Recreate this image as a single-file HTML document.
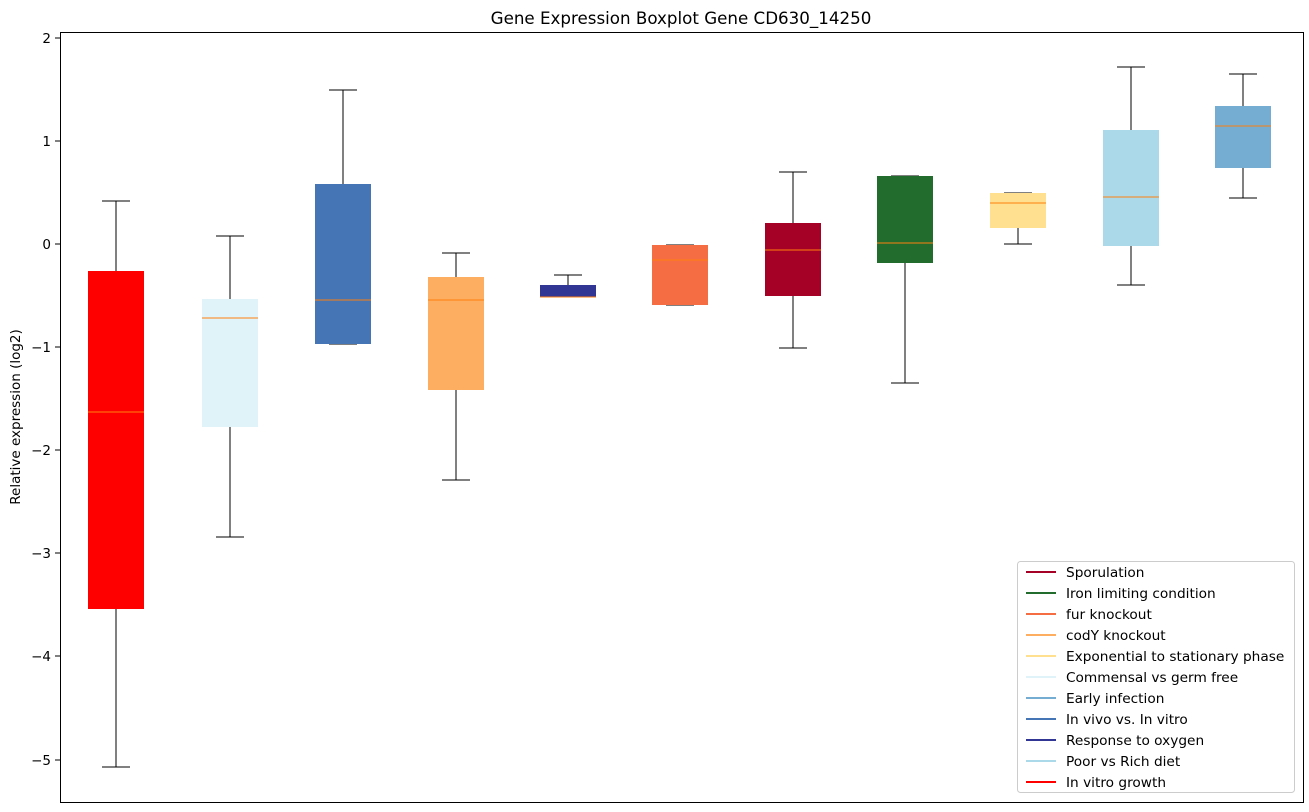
<!DOCTYPE html>
<html><head><meta charset="utf-8"><style>body{margin:0;background:#fff}svg{display:block;font-family:"DejaVu Sans","Liberation Sans",sans-serif}</style></head><body>
<svg width="1309" height="812" xmlns="http://www.w3.org/2000/svg">
<rect width="1309" height="812" fill="#fff"/>
<text x="681" y="24" font-size="16.7" text-anchor="middle">Gene Expression Boxplot Gene CD630_14250</text>
<text transform="translate(20,417) rotate(-90)" font-size="13.5" text-anchor="middle">Relative expression (log2)</text>
<g font-size="13.5" text-anchor="end">
<text x="51" y="43">2</text><text x="51" y="146">1</text><text x="51" y="249">0</text>
<text x="51" y="352">−1</text><text x="51" y="455">−2</text><text x="51" y="558">−3</text>
<text x="51" y="661">−4</text><text x="51" y="765">−5</text>
</g>
<g stroke="#000" shape-rendering="crispEdges">
<line x1="55" x2="60" y1="38" y2="38"/><line x1="55" x2="60" y1="141" y2="141"/><line x1="55" x2="60" y1="244" y2="244"/>
<line x1="55" x2="60" y1="347" y2="347"/><line x1="55" x2="60" y1="450" y2="450"/><line x1="55" x2="60" y1="553" y2="553"/>
<line x1="55" x2="60" y1="656" y2="656"/><line x1="55" x2="60" y1="760" y2="760"/>
</g>
<g stroke="#000" shape-rendering="crispEdges" fill="none">
<path d="M116 201V271M116 609V767M102 201H130M102 767H130"/>
<path d="M230 236V299M230 427V537M216 236H244M216 537H244"/>
<path d="M343 90V184M329 90H357M329 344H357"/>
<path d="M456 253V277M456 390V480M442 253H470M442 480H470"/>
<path d="M568 275V285M554 275H582M554 297H582"/>
<path d="M666 245H694M666 305H694"/>
<path d="M793 172V223M793 296V348M779 172H807M779 348H807"/>
<path d="M905 263V383M891 176H919M891 383H919"/>
<path d="M1018 228V244M1004 193H1032M1004 244H1032"/>
<path d="M1131 67V130M1131 246V285M1117 67H1145M1117 285H1145"/>
<path d="M1243 74V106M1243 168V198M1229 74H1257M1229 198H1257"/>
</g>
<g shape-rendering="crispEdges">
<rect x="88" y="271" width="56" height="338" fill="#ff0000"/>
<rect x="202" y="299" width="56" height="128" fill="#e0f3f8"/>
<rect x="315" y="184" width="56" height="160" fill="#4575b4"/>
<rect x="428" y="277" width="56" height="113" fill="#fdae61"/>
<rect x="540" y="285" width="56" height="12" fill="#313695"/>
<rect x="652" y="245" width="56" height="60" fill="#f46d43"/>
<rect x="765" y="223" width="56" height="73" fill="#a50026"/>
<rect x="877" y="176" width="56" height="87" fill="#226c2d"/>
<rect x="990" y="193" width="56" height="35" fill="#fee090"/>
<rect x="1103" y="130" width="56" height="116" fill="#abd9e9"/>
<rect x="1215" y="106" width="56" height="62" fill="#74add1"/>
</g>
<g stroke="#ff7f0e" shape-rendering="crispEdges">
<path d="M88 412H144M202 318H258M315 300H371M428 300H484M540 297H596M652 260H708M765 250H821M877 243H933M990 203H1046M1103 197H1159M1215 126H1271"/>
</g>
<rect x="60.5" y="32.5" width="1243" height="770" fill="none" stroke="#000"/>
<rect x="1017.5" y="561.5" width="277" height="231" rx="3" fill="#fff" fill-opacity="0.85" stroke="#ccc"/>
<g font-size="13.7">
<g stroke-width="2">
<line x1="1026" x2="1056" y1="572" y2="572" stroke="#a50026"/>
<line x1="1026" x2="1056" y1="593" y2="593" stroke="#226c2d"/>
<line x1="1026" x2="1056" y1="614" y2="614" stroke="#f46d43"/>
<line x1="1026" x2="1056" y1="635" y2="635" stroke="#fdae61"/>
<line x1="1026" x2="1056" y1="656" y2="656" stroke="#fee090"/>
<line x1="1026" x2="1056" y1="677" y2="677" stroke="#e0f3f8"/>
<line x1="1026" x2="1056" y1="698" y2="698" stroke="#74add1"/>
<line x1="1026" x2="1056" y1="719" y2="719" stroke="#4575b4"/>
<line x1="1026" x2="1056" y1="740" y2="740" stroke="#313695"/>
<line x1="1026" x2="1056" y1="761" y2="761" stroke="#abd9e9"/>
<line x1="1026" x2="1056" y1="782" y2="782" stroke="#ff0000"/>
</g>
<text x="1066" y="577">Sporulation</text>
<text x="1066" y="598">Iron limiting condition</text>
<text x="1066" y="619">fur knockout</text>
<text x="1066" y="640">codY knockout</text>
<text x="1066" y="661">Exponential to stationary phase</text>
<text x="1066" y="682">Commensal vs germ free</text>
<text x="1066" y="703">Early infection</text>
<text x="1066" y="724">In vivo vs. In vitro</text>
<text x="1066" y="745">Response to oxygen</text>
<text x="1066" y="766">Poor vs Rich diet</text>
<text x="1066" y="787">In vitro growth</text>
</g>
</svg>
</body></html>
